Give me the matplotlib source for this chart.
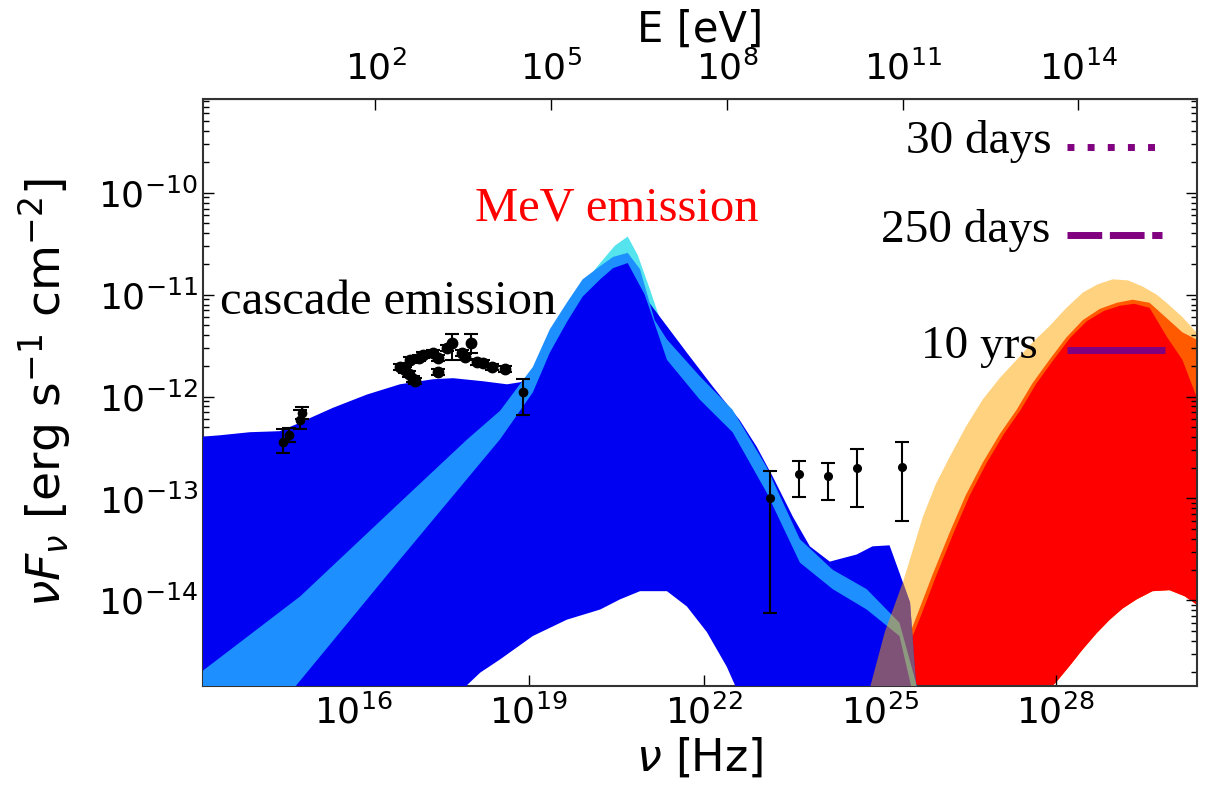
"""Broad-band SED: cascade + MeV emission bands, hadronic bump, data points."""

import numpy as np
import matplotlib

matplotlib.use("Agg")
import matplotlib.pyplot as plt
from matplotlib.ticker import LogLocator, NullLocator, FixedLocator

H_EV = 4.135667e-15  # Planck constant, eV s
FLOOR = -15.5  # below the visible range, only used to close the bands

# all values below are log10(nu / Hz) and log10(nuFnu / erg s^-1 cm^-2)

# dark blue band (10 yrs)
blue_hi_x = [13.30, 13.73, 14.24, 14.75, 15.04, 15.27, 15.66, 16.24, 16.80, 17.37,
             17.71, 18.22, 18.63, 18.85, 19.07, 19.36, 19.65, 19.92, 20.22, 20.44,
             20.69, 20.90, 21.02, 21.36, 21.70, 22.14, 22.60, 22.89, 23.17, 23.51,
             23.80, 24.14, 24.60, 24.87, 25.16, 25.33, 25.51, 25.62]
blue_hi_y = [-12.40, -12.38, -12.35, -12.34, -12.27, -12.21, -12.11, -11.98, -11.88, -11.83,
             -11.82, -11.85, -11.88, -11.86, -11.81, -11.49, -11.20, -10.95, -10.79, -10.69,
             -10.64, -10.85, -11.05, -11.31, -11.57, -11.90, -12.23, -12.49, -12.79, -13.18,
             -13.47, -13.62, -13.55, -13.47, -13.46, -13.73, -14.02, -14.87]
blue_lo_x = [13.30, 17.83, 17.95, 18.17, 18.51, 19.07, 19.65, 20.22, 20.56, 20.90,
             21.36, 21.70, 22.04, 22.38, 22.55, 22.60, 25.70]
blue_lo_y = [FLOOR, FLOOR, -14.83, -14.71, -14.58, -14.35, -14.19, -14.09, -13.99, -13.91,
             -13.91, -14.06, -14.31, -14.65, -14.87, FLOOR, FLOOR]

# light blue band (250 days)
lblue_hi_x = [13.30, 15.10, 16.80, 17.95, 18.51, 19.07, 19.36, 19.65, 19.92, 20.22,
              20.44, 20.69, 20.90, 21.15, 21.36, 21.92, 22.48, 23.06, 23.63, 24.19,
              24.77, 25.33, 25.64]
lblue_hi_y = [-14.75, -13.96, -13.04, -12.42, -12.14, -11.71, -11.34, -11.08, -10.85, -10.72,
              -10.63, -10.59, -10.75, -11.25, -11.44, -11.80, -12.13, -12.69, -13.40, -13.70,
              -13.89, -14.22, -14.87]
lblue_lo_x = [13.30, 14.98, 14.98, 16.80, 18.51, 19.07, 19.36, 19.65, 19.92, 20.22,
              20.44, 20.69, 20.98, 21.36, 21.92, 22.48, 23.06, 23.63, 24.19, 24.77,
              25.33, 25.54, 25.64]
lblue_lo_y = [FLOOR, FLOOR, -14.87, -13.60, -12.42, -11.96, -11.57, -11.27, -11.02, -10.85,
              -10.74, -10.69, -11.00, -11.64, -12.03, -12.35, -12.94, -13.63, -13.89, -14.09,
              -14.35, -14.87, FLOOR]

# cyan band (30 days), only its tip shows above the others
cyan_hi_x = [19.79, 19.99, 20.22, 20.47, 20.69, 20.86, 21.07, 21.27, 21.44]
cyan_hi_y = [-11.05, -10.85, -10.69, -10.52, -10.43, -10.61, -10.95, -11.29, -11.49]
cyan_lo_x = [19.79, 21.44]
cyan_lo_y = [-11.39, -11.78]

# high-energy bump: outer edge of the red/orange-red band
red_hi_x = [25.16, 25.39, 25.62, 25.90, 26.19, 26.46, 26.75, 27.04, 27.33, 27.60,
            27.89, 28.18, 28.46, 28.75, 29.04, 29.31, 29.60, 29.89, 30.16, 30.40, 30.54]
red_hi_y = [-14.87, -14.50, -14.16, -13.74, -13.33, -12.97, -12.65, -12.37, -12.13, -11.87,
            -11.64, -11.42, -11.25, -11.14, -11.08, -11.05, -11.08, -11.23, -11.37, -11.44, -11.52]
# lower edge of the bump (white hole at bottom right)
red_lo_x = [24.70, 27.89, 27.89, 28.01, 28.24, 28.46, 28.70, 28.92, 29.14, 29.38,
            29.65, 29.94, 30.20, 30.40, 30.54]
red_lo_y = [FLOOR, FLOOR, -14.87, -14.80, -14.64, -14.48, -14.32, -14.19, -14.08, -13.99,
            -13.91, -13.90, -13.96, -14.04, -14.11]

# light orange envelope (outer edge)
orng_hi_x = [24.70, 24.82, 25.08, 25.39, 25.73, 25.95, 26.19, 26.46, 26.75, 27.04,
             27.33, 27.60, 27.89, 28.18, 28.46, 28.71, 28.97, 29.23, 29.48, 29.72,
             29.89, 30.16, 30.40, 30.54]
orng_hi_y = [FLOOR, -14.87, -14.31, -13.82, -13.18, -12.86, -12.59, -12.30, -12.03, -11.82,
             -11.64, -11.47, -11.31, -11.13, -10.98, -10.90, -10.85, -10.86, -10.92, -11.00,
             -11.08, -11.22, -11.37, -11.49]
# where the pure red core starts (inside the orange-red rim)
core_x = [24.70, 25.23, 25.45, 25.69, 25.97, 26.26, 26.53, 26.82, 27.11, 27.40,
          27.67, 27.96, 28.25, 28.53, 28.82, 29.09, 29.34, 29.60, 29.89, 30.16,
          30.40, 30.54]
core_y = [FLOOR, -14.87, -14.50, -14.16, -13.74, -13.33, -12.97, -12.65, -12.37, -12.13,
          -11.87, -11.64, -11.42, -11.26, -11.16, -11.11, -11.09, -11.13, -11.41, -11.64,
          -12.00, -12.13]

# data points: UV, X-ray, hard X-ray, gamma-ray
uv_x = [14.81, 14.91, 15.10, 15.13]
uv_y = [-12.45, -12.38, -12.23, -12.16]
uv_lo = [-12.55, -12.45, -12.32, -12.22]
uv_hi = [-12.32, -12.31, -12.13, -12.10]

xr_x = [16.80, 16.88, 16.95, 17.02, 16.97, 17.05, 17.12, 17.20, 17.37, 17.45,
        17.45, 17.60, 17.69, 17.86, 17.91, 18.01, 18.12, 18.22, 18.37, 18.59]
xr_y = [-11.71, -11.74, -11.78, -11.83, -11.64, -11.85, -11.62, -11.59, -11.57, -11.62,
        -11.76, -11.52, -11.47, -11.57, -11.61, -11.47, -11.66, -11.67, -11.71, -11.73]
xr_lo = [-11.74, -11.77, -11.81, -11.86, -11.67, -11.88, -11.65, -11.62, -11.60, -11.65,
         -11.79, -11.55, -11.64, -11.60, -11.64, -11.57, -11.69, -11.70, -11.74, -11.76]
xr_hi = [-11.68, -11.71, -11.75, -11.80, -11.61, -11.82, -11.59, -11.56, -11.54, -11.59,
         -11.73, -11.49, -11.39, -11.54, -11.58, -11.39, -11.63, -11.64, -11.68, -11.70]

hx_x = [18.90]
hx_y = [-11.96]
hx_lo = [-12.18]
hx_hi = [-11.83]

gam_x = [23.12, 23.61, 24.11, 24.60, 25.37]
gam_y = [-13.00, -12.76, -12.78, -12.70, -12.69]
gam_lo = [-14.12, -12.99, -13.02, -13.08, -13.22]
gam_hi = [-12.73, -12.63, -12.65, -12.51, -12.45]

nu_ticks = [16, 19, 22, 25, 28]
e_ticks = [2, 5, 8, 11, 14]
y_ticks = [-14, -13, -12, -11, -10]

SERIF = "Liberation Serif"


def band(ax, hx, hy, lx, ly, **kw):
    xs = np.concatenate([hx, lx[::-1]])
    ys = np.concatenate([hy, ly[::-1]])
    return ax.fill(10.0 ** xs, 10.0 ** ys, lw=0, **kw)[0]


def points(ax, x, y, lo, hi, ms=6.0):
    x, y, lo, hi = (np.asarray(a, float) for a in (x, y, lo, hi))
    yy = 10.0 ** y
    err = [yy - 10.0 ** lo, 10.0 ** hi - yy]
    ax.errorbar(10.0 ** x, yy, yerr=err, fmt="o", color="k", ms=ms,
                elinewidth=1.5, capsize=5, capthick=1.5, zorder=6)


def main():
    fig = plt.figure(figsize=(12.16, 7.93), dpi=100)
    ax = fig.add_axes([0.167, 0.135, 0.8174, 0.7402])
    ax.set_xscale("log")
    ax.set_yscale("log")

    # high-energy bump: light orange envelope, orange-red rim, red core
    band(ax, orng_hi_x, orng_hi_y, red_lo_x, red_lo_y, color="#ffd27f", zorder=1)
    band(ax, red_hi_x, red_hi_y, red_lo_x, red_lo_y, color="#ff5a00", zorder=1.1)
    band(ax, core_x, core_y, red_lo_x, red_lo_y, color="#ff0000", zorder=1.2)

    band(ax, cyan_hi_x, cyan_hi_y, cyan_lo_x, cyan_lo_y, color="#55e4ee", zorder=2)
    blue = band(ax, blue_hi_x, blue_hi_y, blue_lo_x, blue_lo_y, color="#0000f2", zorder=3)
    band(ax, lblue_hi_x, lblue_hi_y, lblue_lo_x, lblue_lo_y, color="#1e8fff", zorder=4)
    # the translucent orange envelope tints the blue bands where they overlap
    tint = band(ax, orng_hi_x, orng_hi_y, red_lo_x, red_lo_y, color="orange",
                alpha=0.5, zorder=5)
    tint.set_clip_path(blue)

    points(ax, uv_x, uv_y, uv_lo, uv_hi)
    points(ax, xr_x, xr_y, xr_lo, xr_hi, ms=7.5)
    points(ax, hx_x, hx_y, hx_lo, hx_hi)
    points(ax, gam_x, gam_y, gam_lo, gam_hi, ms=5.5)

    ax.set_xlim(10 ** 13.44, 10 ** 30.41)
    ax.set_ylim(10 ** -14.84, 10 ** -9.08)

    ax.xaxis.set_major_locator(FixedLocator([10.0 ** t for t in nu_ticks]))
    ax.xaxis.set_minor_locator(NullLocator())
    ax.yaxis.set_major_locator(FixedLocator([10.0 ** t for t in y_ticks]))
    ax.yaxis.set_minor_locator(LogLocator(base=10, subs=np.arange(2, 10)))
    ax.tick_params(which="both", direction="in", right=True, top=False,
                   labelsize=26, width=1)
    ax.tick_params(which="major", length=8)
    ax.tick_params(which="minor", length=4)
    ax.tick_params(axis="x", pad=6)
    for sp in ax.spines.values():
        sp.set_linewidth(1.5)
        sp.set_color("#333333")

    sec = ax.secondary_xaxis("top", functions=(lambda nu: nu * H_EV,
                                               lambda e: e / H_EV))
    sec.xaxis.set_major_locator(FixedLocator([10.0 ** t for t in e_ticks]))
    sec.xaxis.set_minor_locator(NullLocator())
    sec.tick_params(which="both", direction="in", labelsize=26, length=8,
                    width=1, pad=9)
    sec.set_xlabel("E [eV]", fontsize=30, labelpad=6)

    ax.set_xlabel(r"$\nu$ [Hz]", fontsize=32, labelpad=4)
    ax.set_ylabel(r"$\nu F_\nu$ [erg s$^{-1}$ cm$^{-2}$]", fontsize=34, labelpad=18)

    ax.text(0.4165, 0.814, "MeV emission", color="red", fontsize=35,
            family=SERIF, ha="center", va="center", transform=ax.transAxes, zorder=8)
    ax.text(0.186, 0.654, "cascade emission", color="black", fontsize=35,
            family=SERIF, ha="center", va="center", transform=ax.transAxes, zorder=8)

    # hand-placed key, label left of the line sample
    keys = [("30 days", (0, (1, 1.9)), 0.854, 0.908, 0.918, 0.958),
            ("250 days", (0, (5, 1.1)), 0.852, 0.756, 0.768, 0.965),
            ("10 yrs", "-", 0.840, 0.559, 0.572, 0.968)]
    for label, ls, tx, ty, ly, x1 in keys:
        ax.text(tx, ty, label, fontsize=34, family=SERIF, ha="right",
                va="baseline", transform=ax.transAxes, zorder=8)
        ax.plot([0.869, x1], [ly, ly], ls=ls, lw=5, color="#800080",
                transform=ax.transAxes, zorder=8, solid_capstyle="butt",
                dash_capstyle="butt")

    fig.savefig("out.png", dpi=100)


if __name__ == "__main__":
    main()
